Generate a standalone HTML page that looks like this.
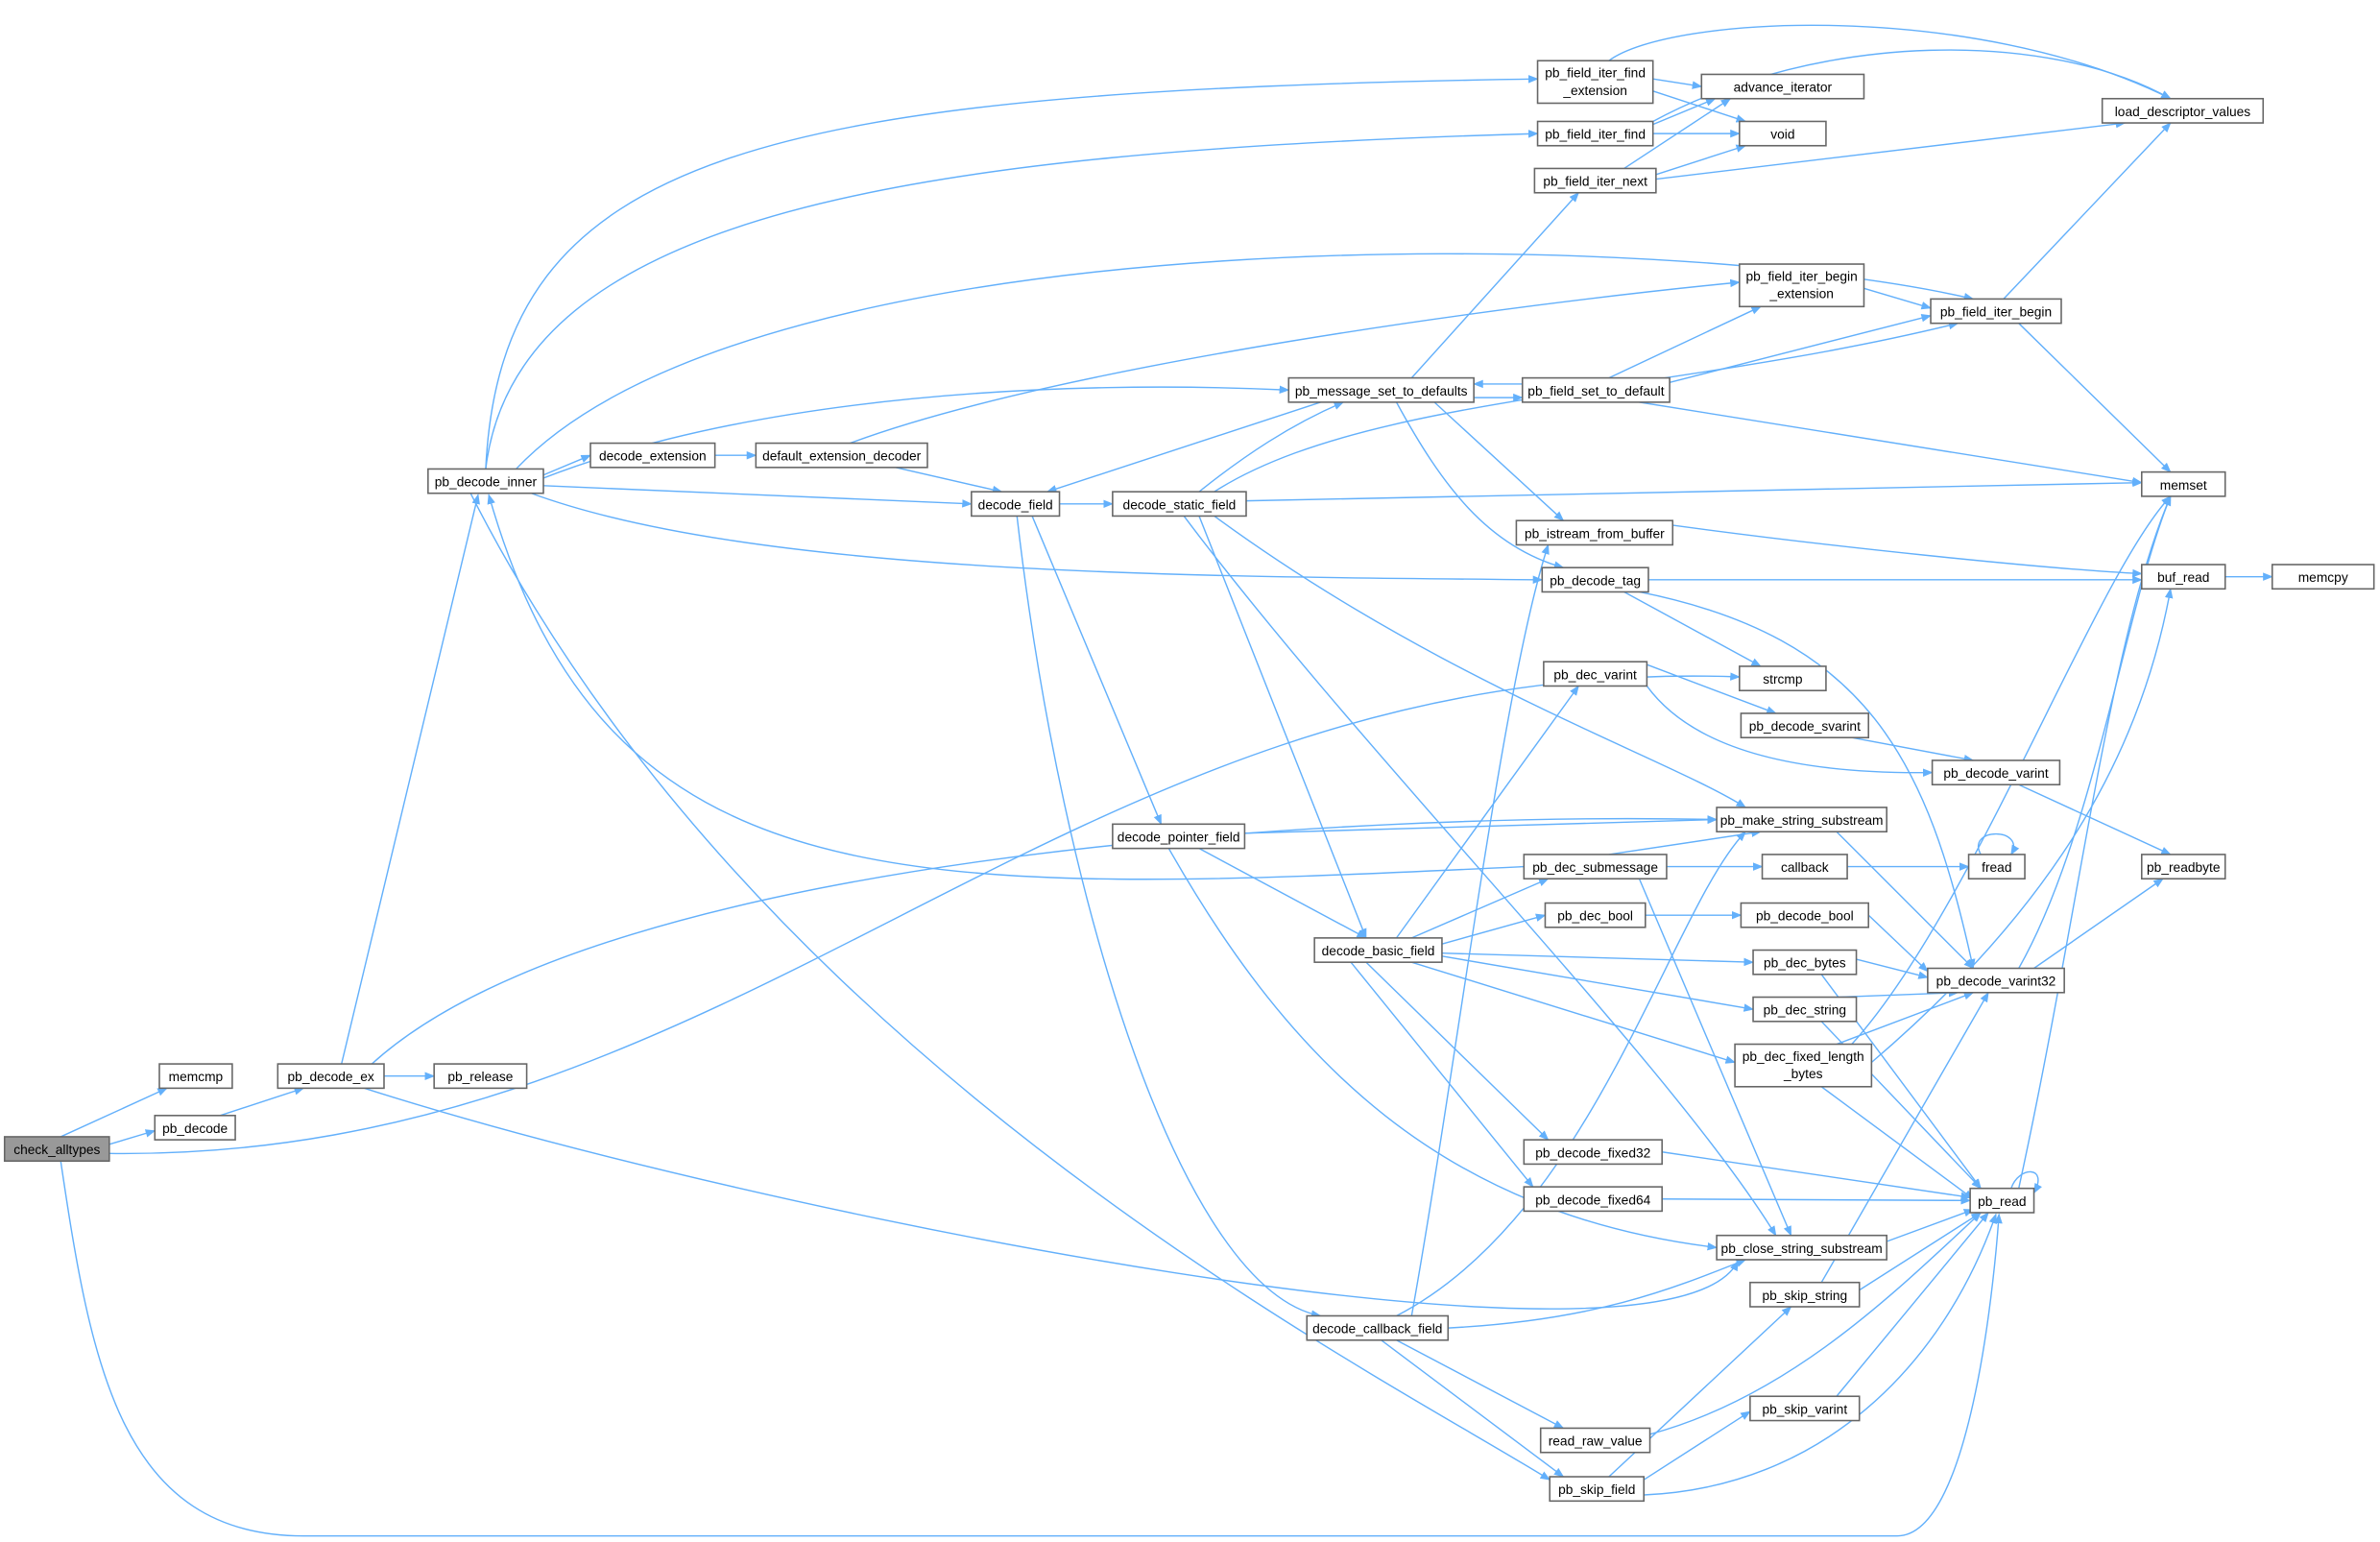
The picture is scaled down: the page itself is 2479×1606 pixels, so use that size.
<!DOCTYPE html>
<html><head><meta charset="utf-8"><style>
html,body{margin:0;padding:0;background:#fff;}
svg{display:block}
text{font-family:"Liberation Sans",Arial,sans-serif;font-size:8.7px;fill:#000;text-anchor:middle}
.n{fill:#fff;stroke:#666;stroke-width:1}
.e{fill:none;stroke:#63b0fb;stroke-width:0.9}
</style></head><body>
<svg width="2479" height="1606" viewBox="0 0 1568 1016" preserveAspectRatio="none" xmlns="http://www.w3.org/2000/svg">
<defs><marker id="a" viewBox="0 0 10 10" refX="9" refY="5" markerWidth="7.5" markerHeight="7.5" orient="auto"><path d="M0,1 L10,5 L0,9 z" fill="#63b0fb"/></marker></defs>
<g class="e" marker-end="url(#a)">
<path d="M40,749 L110,717"/>
<path d="M72,754 L102,745"/>
<path d="M72,760 C500,765 700,430 1146,446"/>
<path d="M40,765 C60,900 80,1012 200,1012 L1250,1012 C1300,1012 1315,830 1317,800"/>
<path d="M145,735 L200,717"/>
<path d="M253,709 L286,709"/>
<path d="M225,701 L315,326"/>
<path d="M245,701 C400,560 900,535 1131,540"/>
<path d="M240,717 C500,800 1100,920 1145,831"/>
<path d="M320,309 C330,100 500,60 1013,52"/>
<path d="M320,309 C340,140 600,100 1013,88"/>
<path d="M340,309 C500,140 1100,150 1300,197"/>
<path d="M358,315 C500,260 700,250 849,257"/>
<path d="M358,313 L389,300"/>
<path d="M358,320 L640,332"/>
<path d="M350,325 C500,380 800,380 1016,382"/>
<path d="M310,325 C500,700 900,900 1021,975"/>
<path d="M1004,571 C600,590 400,600 322,326"/>
<path d="M471,300 L498,300"/>
<path d="M560,292 C700,240 1000,200 1146,186"/>
<path d="M590,308 L660,324"/>
<path d="M698,332 L733,332"/>
<path d="M680,340 L765,543"/>
<path d="M670,340 C700,600 780,850 870,867"/>
<path d="M790,324 C820,300 850,280 885,265"/>
<path d="M800,324 C900,260 1100,260 1290,213"/>
<path d="M821,330 L1411,318"/>
<path d="M790,340 L900,618"/>
<path d="M800,340 C950,450 1100,500 1150,532"/>
<path d="M780,340 C900,500 1100,700 1170,814"/>
<path d="M870,265 L690,324"/>
<path d="M971,262 L1003,262"/>
<path d="M930,249 L1040,127"/>
<path d="M945,265 L1030,343"/>
<path d="M920,265 C950,320 980,360 1030,374"/>
<path d="M1003,253 L971,253"/>
<path d="M1060,249 L1160,202"/>
<path d="M1100,252 L1272,208"/>
<path d="M1080,265 L1411,318"/>
<path d="M1089,52 L1121,57"/>
<path d="M1089,60 L1150,80"/>
<path d="M1060,40 C1100,10 1300,0 1430,65"/>
<path d="M1089,82 L1130,65"/>
<path d="M1089,88 L1146,88"/>
<path d="M1089,80 C1200,20 1350,20 1430,65"/>
<path d="M1070,111 L1140,65"/>
<path d="M1091,115 L1150,96"/>
<path d="M1091,118 L1400,81"/>
<path d="M1228,190 L1272,203"/>
<path d="M1320,197 L1430,81"/>
<path d="M1330,213 L1430,311"/>
<path d="M1080,343 C1200,360 1350,375 1411,378"/>
<path d="M1466,380 L1497,380"/>
<path d="M1086,382 L1411,382"/>
<path d="M1070,390 L1160,439"/>
<path d="M1080,390 C1230,420 1270,500 1300,638"/>
<path d="M1080,436 L1170,470"/>
<path d="M1085,452 C1120,500 1200,510 1273,509"/>
<path d="M1220,486 L1300,501"/>
<path d="M1330,517 L1430,563"/>
<path d="M1210,548 L1300,638"/>
<path d="M1340,638 L1425,579"/>
<path d="M1330,638 C1380,550 1400,400 1430,327"/>
<path d="M820,549 L1131,540"/>
<path d="M790,559 L900,618"/>
<path d="M770,559 C850,700 950,800 1131,822"/>
<path d="M1060,563 L1160,548"/>
<path d="M1098,571 L1161,571"/>
<path d="M1080,579 L1180,814"/>
<path d="M1217,571 L1297,571"/>
<path d="M1305,563 C1295,545 1335,545 1325,563"/>
<path d="M920,618 L1040,452"/>
<path d="M930,618 L1020,579"/>
<path d="M950,622 L1018,603"/>
<path d="M950,628 L1155,634"/>
<path d="M950,630 L1155,665"/>
<path d="M930,634 L1143,700"/>
<path d="M900,634 L1020,751"/>
<path d="M890,634 L1010,782"/>
<path d="M1084,603 L1147,603"/>
<path d="M1231,603 L1270,640"/>
<path d="M1223,632 L1270,644"/>
<path d="M1200,642 L1305,783"/>
<path d="M1210,657 L1290,654"/>
<path d="M1200,673 L1305,783"/>
<path d="M1210,688 L1300,654"/>
<path d="M1220,688 C1300,600 1380,380 1430,327"/>
<path d="M1200,716 L1300,790"/>
<path d="M1233,700 C1350,600 1410,500 1430,388"/>
<path d="M1095,759 L1298,789"/>
<path d="M1095,790 L1298,791"/>
<path d="M1325,783 C1330,768 1350,768 1340,786"/>
<path d="M1330,783 C1370,600 1390,420 1430,327"/>
<path d="M1243,818 L1300,797"/>
<path d="M1225,850 L1305,799"/>
<path d="M1200,845 L1310,654"/>
<path d="M1210,920 L1310,799"/>
<path d="M1060,973 L1180,861"/>
<path d="M1083,975 L1153,930"/>
<path d="M1083,985 C1200,980 1280,900 1315,800"/>
<path d="M930,867 C960,700 990,450 1020,359"/>
<path d="M920,867 C1050,800 1100,600 1150,548"/>
<path d="M954,875 C1050,870 1100,850 1150,830"/>
<path d="M920,883 L1030,941"/>
<path d="M910,883 L1030,973"/>
<path d="M1087,945 C1180,920 1250,850 1305,799"/>
</g>
<g>
<rect x="3" y="749" width="69" height="16" fill="#999" stroke="#666"/><text x="37.5" y="760.5">check_alltypes</text>
<rect class="n" x="105" y="701" width="48" height="16"/><text x="129" y="712.5">memcmp</text>
<rect class="n" x="102" y="735" width="53" height="16"/><text x="128.5" y="746.5">pb_decode</text>
<rect class="n" x="183" y="701" width="70" height="16"/><text x="218" y="712.5">pb_decode_ex</text>
<rect class="n" x="286" y="701" width="61" height="16"/><text x="316.5" y="712.5">pb_release</text>
<rect class="n" x="282" y="309" width="76" height="16"/><text x="320" y="320.5">pb_decode_inner</text>
<rect class="n" x="389" y="292" width="82" height="16"/><text x="430" y="303.5">decode_extension</text>
<rect class="n" x="498" y="292" width="113" height="16"/><text x="554.5" y="303.5">default_extension_decoder</text>
<rect class="n" x="640" y="324" width="58" height="16"/><text x="669" y="335.5">decode_field</text>
<rect class="n" x="733" y="324" width="88" height="16"/><text x="777" y="335.5">decode_static_field</text>
<rect class="n" x="849" y="249" width="122" height="16"/><text x="910" y="260.5">pb_message_set_to_defaults</text>
<rect class="n" x="1003" y="249" width="97" height="16"/><text x="1051.5" y="260.5">pb_field_set_to_default</text>
<rect class="n" x="1013" y="40" width="76" height="28"/><text x="1051" y="51">pb_field_iter_find</text><text x="1051" y="62.5">_extension</text>
<rect class="n" x="1013" y="80" width="76" height="16"/><text x="1051" y="91.5">pb_field_iter_find</text>
<rect class="n" x="1011" y="111" width="80" height="16"/><text x="1051" y="122.5">pb_field_iter_next</text>
<rect class="n" x="1121" y="49" width="107" height="16"/><text x="1174.5" y="60.5">advance_iterator</text>
<rect class="n" x="1146" y="80" width="57" height="16"/><text x="1174.5" y="91.5">void</text>
<rect class="n" x="1385" y="65" width="106" height="16"/><text x="1438" y="76.5">load_descriptor_values</text>
<rect class="n" x="1146" y="174" width="82" height="28"/><text x="1187" y="185">pb_field_iter_begin</text><text x="1187" y="196.5">_extension</text>
<rect class="n" x="1272" y="197" width="86" height="16"/><text x="1315" y="208.5">pb_field_iter_begin</text>
<rect class="n" x="1411" y="311" width="55" height="16"/><text x="1438.5" y="322.5">memset</text>
<rect class="n" x="999" y="343" width="103" height="16"/><text x="1050.5" y="354.5">pb_istream_from_buffer</text>
<rect class="n" x="1411" y="372" width="55" height="16"/><text x="1438.5" y="383.5">buf_read</text>
<rect class="n" x="1497" y="372" width="67" height="16"/><text x="1530.5" y="383.5">memcpy</text>
<rect class="n" x="1016" y="374" width="70" height="16"/><text x="1051" y="385.5">pb_decode_tag</text>
<rect class="n" x="1146" y="439" width="57" height="16"/><text x="1174.5" y="450.5">strcmp</text>
<rect class="n" x="1017" y="436" width="68" height="16"/><text x="1051" y="447.5">pb_dec_varint</text>
<rect class="n" x="1147" y="470" width="84" height="16"/><text x="1189" y="481.5">pb_decode_svarint</text>
<rect class="n" x="1273" y="501" width="84" height="16"/><text x="1315" y="512.5">pb_decode_varint</text>
<rect class="n" x="1131" y="532" width="112" height="16"/><text x="1187" y="543.5">pb_make_string_substream</text>
<rect class="n" x="733" y="543" width="87" height="16"/><text x="776.5" y="554.5">decode_pointer_field</text>
<rect class="n" x="1004" y="563" width="94" height="16"/><text x="1051" y="574.5">pb_dec_submessage</text>
<rect class="n" x="1161" y="563" width="56" height="16"/><text x="1189" y="574.5">callback</text>
<rect class="n" x="1297" y="563" width="37" height="16"/><text x="1315.5" y="574.5">fread</text>
<rect class="n" x="1411" y="563" width="55" height="16"/><text x="1438.5" y="574.5">pb_readbyte</text>
<rect class="n" x="1018" y="595" width="66" height="16"/><text x="1051" y="606.5">pb_dec_bool</text>
<rect class="n" x="1147" y="595" width="84" height="16"/><text x="1189" y="606.5">pb_decode_bool</text>
<rect class="n" x="866" y="618" width="84" height="16"/><text x="908" y="629.5">decode_basic_field</text>
<rect class="n" x="1270" y="638" width="90" height="16"/><text x="1315" y="649.5">pb_decode_varint32</text>
<rect class="n" x="1155" y="626" width="68" height="16"/><text x="1189" y="637.5">pb_dec_bytes</text>
<rect class="n" x="1155" y="657" width="68" height="16"/><text x="1189" y="668.5">pb_dec_string</text>
<rect class="n" x="1143" y="688" width="90" height="28"/><text x="1188" y="699">pb_dec_fixed_length</text><text x="1188" y="710.5">_bytes</text>
<rect class="n" x="1004" y="751" width="91" height="16"/><text x="1049.5" y="762.5">pb_decode_fixed32</text>
<rect class="n" x="1004" y="782" width="91" height="16"/><text x="1049.5" y="793.5">pb_decode_fixed64</text>
<rect class="n" x="1298" y="783" width="42" height="16"/><text x="1319" y="794.5">pb_read</text>
<rect class="n" x="1131" y="814" width="112" height="16"/><text x="1187" y="825.5">pb_close_string_substream</text>
<rect class="n" x="1153" y="845" width="72" height="16"/><text x="1189" y="856.5">pb_skip_string</text>
<rect class="n" x="861" y="867" width="93" height="16"/><text x="907.5" y="878.5">decode_callback_field</text>
<rect class="n" x="1153" y="920" width="72" height="16"/><text x="1189" y="931.5">pb_skip_varint</text>
<rect class="n" x="1015" y="941" width="72" height="16"/><text x="1051" y="952.5">read_raw_value</text>
<rect class="n" x="1021" y="973" width="62" height="16"/><text x="1052" y="984.5">pb_skip_field</text>
</g>
</svg>
</body></html>
